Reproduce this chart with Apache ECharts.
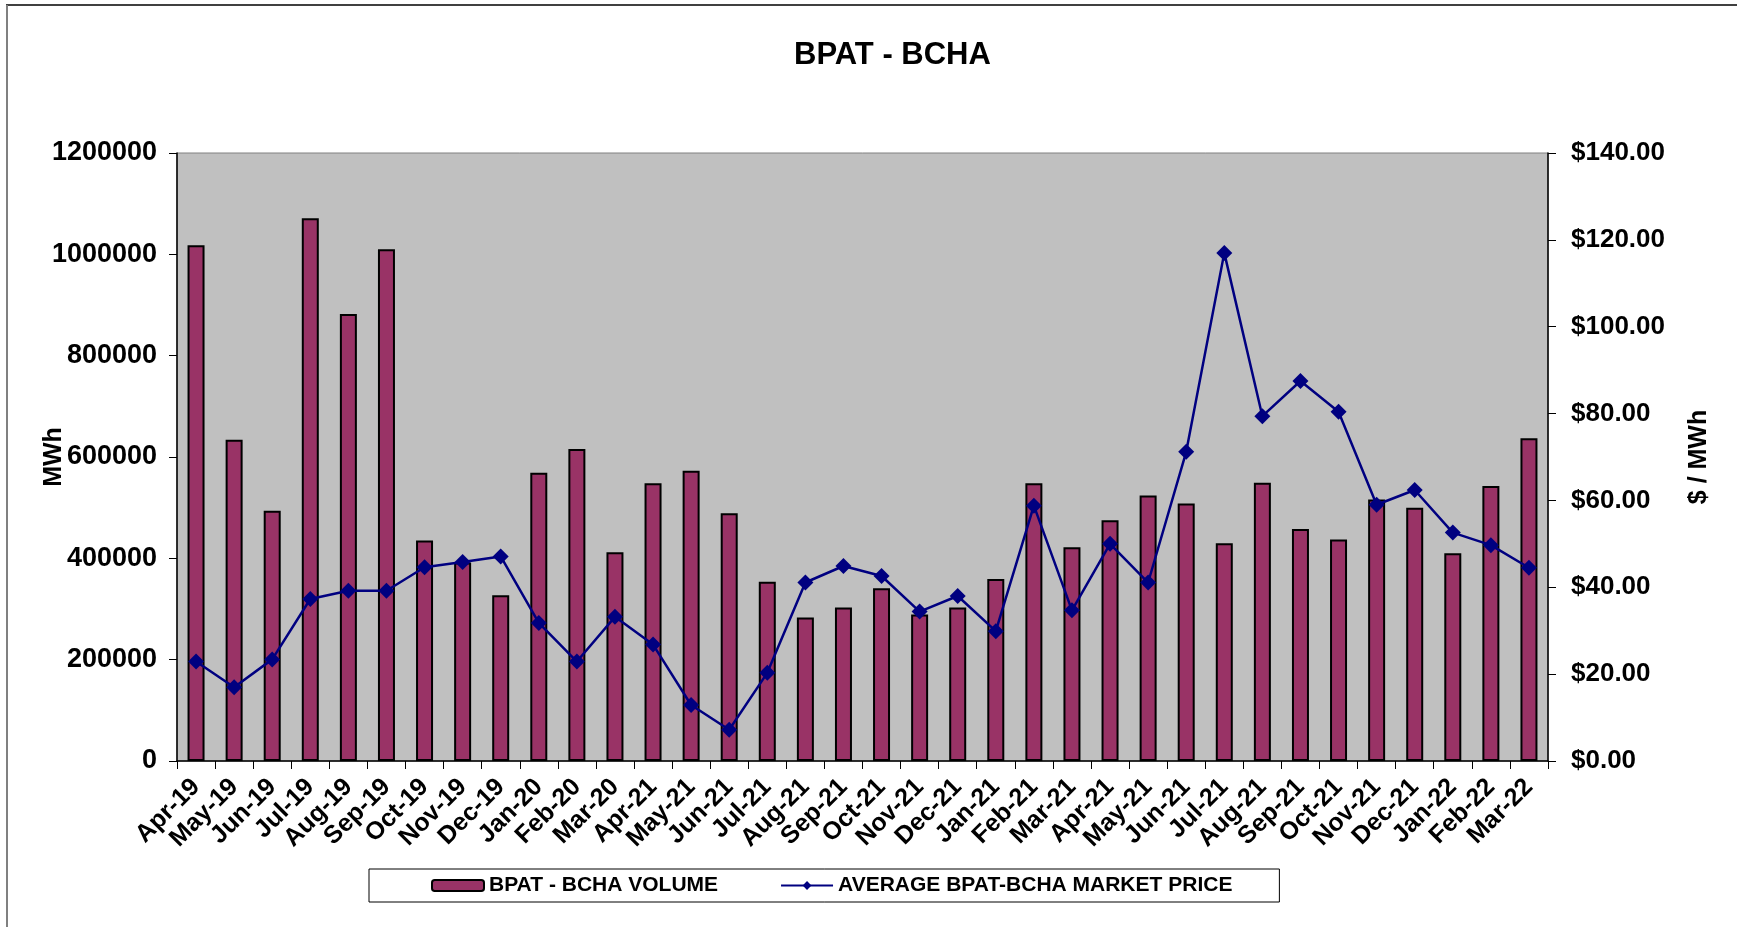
<!DOCTYPE html>
<html>
<head>
<meta charset="utf-8">
<script src="https://cdn.jsdelivr.net/npm/echarts@6/dist/echarts.min.js"></script>
<style>
html,body{margin:0;padding:0;background:#fff;}
#chart{width:1737px;height:927px;}
</style>
</head>
<body>
<div id="chart"></div>
<script>
var categories = ['Apr-19','May-19','Jun-19','Jul-19','Aug-19','Sep-19','Oct-19','Nov-19','Dec-19','Jan-20','Feb-20','Mar-20',
  'Apr-21','May-21','Jun-21','Jul-21','Aug-21','Sep-21','Oct-21','Nov-21','Dec-21','Jan-21','Feb-21','Mar-21',
  'Apr-21','May-21','Jun-21','Jul-21','Aug-21','Sep-21','Oct-21','Nov-21','Dec-21','Jan-22','Feb-22','Mar-22'];
var volume = [1018000, 634000, 494000, 1071000, 882000, 1010000, 435000, 392000, 327000, 569000, 616000, 412000,
  548000, 573000, 489000, 354000, 283000, 303000, 341000, 289000, 303000, 359000, 548000, 422000,
  475000, 524000, 508000, 430000, 549000, 458000, 437000, 516000, 500000, 410000, 543000, 637000];
var price = [22.9, 17.0, 23.4, 37.3, 39.2, 39.2, 44.6, 45.8, 47.1, 31.8, 22.9, 33.2,
  26.8, 12.9, 7.2, 20.3, 41.1, 44.9, 42.6, 34.4, 38.0, 29.9, 58.8, 34.7,
  50.0, 41.1, 71.2, 117.0, 79.4, 87.5, 80.4, 59.0, 62.4, 52.6, 49.7, 44.5];
var leftTicks = {min: 0, max: 1200000, interval: 200000};
var rightTicks = {min: 0, max: 140, interval: 20};

var FONT = '"Liberation Sans", Arial, sans-serif';
var chart = echarts.init(document.getElementById('chart'), null, {renderer: 'canvas'});
chart.setOption({
  backgroundColor: '#ffffff',
  animation: false,
  textStyle: {fontFamily: FONT},
  title: {
    text: 'BPAT - BCHA',
    left: 789, top: 35,
    textStyle: {fontFamily: FONT, fontWeight: 'bold', fontSize: 31, color: '#000'}
  },
  graphic: [
    {type: 'line', shape: {x1: 6, y1: 5, x2: 1737, y2: 5}, style: {stroke: '#404040', lineWidth: 2}},
    {type: 'line', shape: {x1: 7, y1: 5, x2: 7, y2: 927}, style: {stroke: '#808080', lineWidth: 2}}
  ],
  legend: {
    left: 369, top: 869,
    padding: [6, 47, 6, 62],
    itemGap: 62,
    itemWidth: 52, itemHeight: 11,
    borderColor: '#000', borderWidth: 1,
    backgroundColor: '#fff',
    textStyle: {fontFamily: FONT, fontWeight: 'bold', fontSize: 21, color: '#000'},
    data: ['BPAT - BCHA VOLUME', 'AVERAGE BPAT-BCHA MARKET PRICE']
  },
  grid: {
    left: 177, right: 189, top: 153, bottom: 166,
    show: true, backgroundColor: '#C0C0C0', borderColor: '#808080', borderWidth: 1
  },
  xAxis: {
    type: 'category',
    data: categories,
    boundaryGap: true,
    axisLine: {lineStyle: {color: '#000', width: 1.5}},
    axisTick: {show: true, interval: 0, alignWithLabel: false, length: 8, lineStyle: {color: '#000'}},
    axisLabel: {interval: 0, rotate: 45, margin: 22, fontFamily: FONT, fontWeight: 'bold', fontSize: 25, color: '#000'},
    splitLine: {show: false}
  },
  yAxis: [
    {
      type: 'value',
      min: leftTicks.min, max: leftTicks.max, interval: leftTicks.interval,
      name: 'MWh', nameLocation: 'middle', nameRotate: 90, nameGap: 110, nameMoveOverlap: false,
      nameTextStyle: {fontFamily: FONT, fontWeight: 'bold', fontSize: 25, color: '#000'},
      axisLine: {show: true, lineStyle: {color: '#000', width: 1.5}},
      axisTick: {show: true, length: 8, lineStyle: {color: '#000'}},
      axisLabel: {margin: 20, fontFamily: FONT, fontWeight: 'bold', fontSize: 27, color: '#000',
        formatter: function (v) { return String(v); }},
      splitLine: {show: false}
    },
    {
      type: 'value',
      min: rightTicks.min, max: rightTicks.max, interval: rightTicks.interval,
      position: 'right',
      name: '$ / MWh', nameLocation: 'middle', nameRotate: 90, nameGap: 139, nameMoveOverlap: false,
      nameTextStyle: {fontFamily: FONT, fontWeight: 'bold', fontSize: 25, color: '#000'},
      axisLine: {show: true, lineStyle: {color: '#000', width: 1.5}},
      axisTick: {show: true, length: 8, lineStyle: {color: '#000'}},
      axisLabel: {margin: 23, fontFamily: FONT, fontWeight: 'bold', fontSize: 26, color: '#000',
        formatter: function (v) { return '$' + v.toFixed(2); }},
      splitLine: {show: false}
    }
  ],
  series: [
    {
      name: 'BPAT - BCHA VOLUME',
      type: 'bar',
      yAxisIndex: 0,
      data: volume,
      barWidth: 17,
      itemStyle: {color: '#993366', borderColor: '#000', borderWidth: 2}
    },
    {
      name: 'AVERAGE BPAT-BCHA MARKET PRICE',
      type: 'line',
      yAxisIndex: 1,
      data: price,
      symbol: 'diamond',
      symbolSize: 16,
      lineStyle: {color: '#000080', width: 2.5},
      itemStyle: {color: '#000080'}
    }
  ]
});
</script>
</body>
</html>
